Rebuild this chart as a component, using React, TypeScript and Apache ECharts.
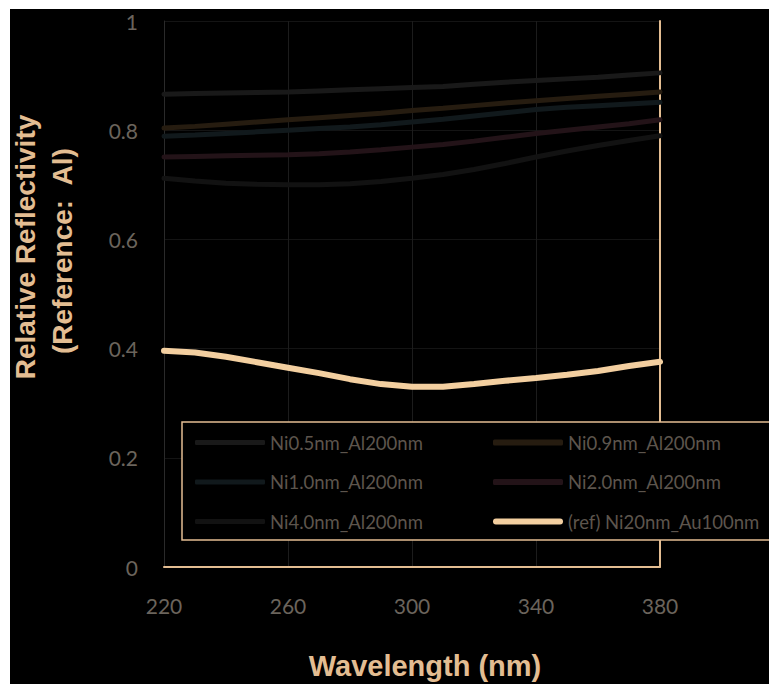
import React, { useEffect, useRef } from "react";
import * as echarts from "echarts";

const wavelengths = ["220", "230", "240", "250", "260", "270", "280", "290", "300", "310", "320", "330", "340", "350", "360", "370", "380"];

const ni05 = [0.866, 0.867, 0.868, 0.869, 0.870, 0.872, 0.874, 0.876, 0.878, 0.880, 0.884, 0.888, 0.891, 0.894, 0.897, 0.901, 0.905];
const ni09 = [0.804, 0.807, 0.811, 0.815, 0.819, 0.823, 0.827, 0.831, 0.836, 0.840, 0.845, 0.850, 0.854, 0.858, 0.862, 0.866, 0.870];
const ni10 = [0.789, 0.791, 0.794, 0.797, 0.800, 0.803, 0.806, 0.810, 0.815, 0.820, 0.826, 0.832, 0.838, 0.842, 0.845, 0.848, 0.851];
const ni20 = [0.751, 0.752, 0.753, 0.754, 0.755, 0.757, 0.760, 0.764, 0.769, 0.774, 0.780, 0.787, 0.794, 0.800, 0.806, 0.812, 0.819];
const ni40 = [0.712, 0.707, 0.703, 0.701, 0.700, 0.700, 0.702, 0.706, 0.712, 0.719, 0.728, 0.739, 0.751, 0.762, 0.772, 0.781, 0.790];
const refNi20Au = [0.396, 0.393, 0.385, 0.375, 0.365, 0.355, 0.344, 0.335, 0.330, 0.330, 0.335, 0.341, 0.346, 0.352, 0.359, 0.368, 0.376];

const seriesNames = ["Ni0.5nm_Al200nm", "Ni0.9nm_Al200nm", "Ni1.0nm_Al200nm", "Ni2.0nm_Al200nm", "Ni4.0nm_Al200nm", "(ref) Ni20nm_Au100nm"];
const seriesData = [ni05, ni09, ni10, ni20, ni40, refNi20Au];
const seriesColors = ["#191919", "#261c10", "#11191c", "#231318", "#121212", "#f3cfa0"];
const seriesWidths = [5, 5, 5, 5, 5, 6];

const yTitleLine1 = "Relative Reflectivity";
const yTitleLine2 = "(Reference:  Al)";
const xTitle = "Wavelength (nm)";

const TAN = "#e3bd92";
const TICK = "#6b645c";

export default function App() {
  const ref = useRef<HTMLDivElement>(null);
  useEffect(() => {
    if (!ref.current) return;
    const chart = echarts.init(ref.current, undefined, { renderer: "svg" });
    const labelFont = "Lato, 'Open Sans', sans-serif";
    const titleFont = "'Liberation Sans', Arial, sans-serif";
    const legendText = { color: "#5d554d", fontSize: 18.5, fontFamily: labelFont, lineHeight: 21 };
    chart.setOption({
      animation: false,
      backgroundColor: "#000",
      grid: { left: 154, top: 12, right: 109, bottom: 117 },
      xAxis: [
        {
          type: "category",
          data: wavelengths,
          boundaryGap: false,
          axisLine: { show: true, lineStyle: { color: "#2a2a2a", width: 1 } },
          axisTick: { show: false },
          axisLabel: { interval: 3, color: TICK, fontSize: 21, fontFamily: labelFont, margin: 28 },
          splitLine: { show: true, interval: 3, lineStyle: { color: "#1c1c1c", width: 1 } },
        },
        {
          type: "category",
          data: wavelengths,
          boundaryGap: false,
          position: "top",
          axisLine: { show: true, lineStyle: { color: TAN, width: 2 } },
          axisTick: { show: false },
          axisLabel: { show: false },
          splitLine: { show: false },
        },
      ],
      yAxis: [
        {
          type: "value",
          min: 0,
          max: 1,
          interval: 0.2,
          axisLine: { show: true, lineStyle: { color: "#2a2a2a", width: 1 } },
          axisTick: { show: false },
          axisLabel: { color: TICK, fontSize: 21, fontFamily: labelFont, margin: 26 },
          splitLine: { show: true, lineStyle: { color: "#141414", width: 1 } },
        },
        {
          type: "value",
          min: 0,
          max: 1,
          interval: 0.2,
          position: "right",
          axisLine: { show: true, lineStyle: { color: TAN, width: 2 } },
          axisTick: { show: false },
          axisLabel: { show: false },
          splitLine: { show: false },
        },
      ],
      legend: [
        {
          data: [0, 2, 4].map((i) => ({ name: seriesNames[i], icon: "roundRect" })),
          orient: "vertical",
          left: 180,
          top: 418,
          itemWidth: 70,
          itemHeight: 5,
          itemGap: 18.5,
          textStyle: legendText,
        },
        {
          data: [1, 3].map((i) => ({ name: seriesNames[i], icon: "roundRect" })).concat([
            { name: seriesNames[5], icon: "path://M3,0 L69,0 A3,3 0 0 1 69,6 L3,6 A3,3 0 0 1 3,0 Z" },
          ]),
          orient: "vertical",
          left: 478,
          top: 418,
          itemWidth: 70,
          itemHeight: 6,
          itemGap: 18.5,
          textStyle: legendText,
        },
      ],
      graphic: [
        {
          type: "rect",
          z: 3,
          shape: { x: 172, y: 413, width: 620, height: 118 },
          style: { fill: "#000", stroke: TAN, lineWidth: 1.5 },
        },
        {
          type: "text",
          x: 15,
          y: 238,
          rotation: Math.PI / 2,
          style: {
            text: yTitleLine1,
            fill: TAN,
            font: `bold 28px ${titleFont}`,
            textAlign: "center",
            textVerticalAlign: "middle",
          },
        },
        {
          type: "text",
          x: 52,
          y: 242,
          rotation: Math.PI / 2,
          style: {
            text: yTitleLine2,
            fill: TAN,
            font: `bold 28px ${titleFont}`,
            textAlign: "center",
            textVerticalAlign: "middle",
          },
        },
        {
          type: "text",
          x: 415,
          y: 657,
          style: {
            text: xTitle,
            fill: TAN,
            font: `bold 29px ${titleFont}`,
            textAlign: "center",
            textVerticalAlign: "middle",
          },
        },
      ],
      series: seriesNames.map((name, i) => ({
        name,
        type: "line",
        data: seriesData[i],
        showSymbol: false,
        symbol: "none",
        smooth: false,
        z: i === 5 ? 2.5 : 2,
        lineStyle: { color: seriesColors[i], width: seriesWidths[i], cap: "round" },
        itemStyle: { color: seriesColors[i] },
      })),
    });
    return () => chart.dispose();
  }, []);
  return (
    <div style={{ position: "fixed", left: 0, top: 0, width: 769, height: 684, background: "#fff", overflow: "hidden" }}>
      <div ref={ref} style={{ position: "absolute", left: 10, top: 9, width: 759, height: 675 }} />
    </div>
  );
}
